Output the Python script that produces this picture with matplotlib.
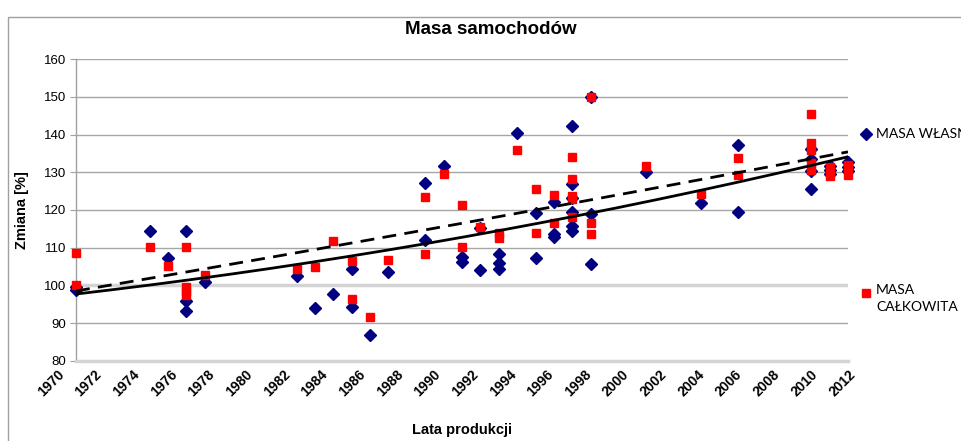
import numpy as np
import matplotlib
matplotlib.use("Agg")
import matplotlib.pyplot as plt
import matplotlib.transforms as mtransforms
from matplotlib.lines import Line2D
from matplotlib.patches import Rectangle

# ---- data ----
wl_years = [1970, 1970, 1974, 1975, 1976, 1976, 1976, 1977, 1982, 1983, 1984,
            1985, 1985, 1986, 1987, 1989, 1989, 1990, 1991, 1991, 1992, 1992,
            1993, 1993, 1993, 1994, 1995, 1995, 1996, 1996, 1996,
            1997, 1997, 1997, 1997, 1997, 1997, 1998, 1998, 1998,
            2001, 2004, 2006, 2006, 2010, 2010, 2010, 2010,
            2011, 2011, 2011, 2012, 2012, 2012]
wl_values = [99.6, 98.8, 114.5, 107.3, 114.5, 95.9, 93.2, 101.0, 102.5, 94.0, 97.6,
             104.3, 94.2, 86.9, 103.5, 127.1, 112.0, 131.7, 107.4, 106.1, 115.1, 104.1,
             108.2, 106.0, 104.3, 140.4, 119.2, 107.2, 122.0, 113.7, 112.9,
             142.3, 127.0, 123.1, 119.4, 115.8, 114.3, 150.0, 118.9, 105.7,
             130.0, 121.9, 137.3, 119.6, 136.1, 133.5, 130.4, 125.5,
             131.8, 130.5, 129.5, 132.8, 131.5, 130.4]

ca_years = [1970, 1970, 1974, 1975, 1976, 1976, 1976, 1976, 1977, 1982, 1983, 1984,
            1985, 1985, 1986, 1987, 1989, 1989, 1990, 1991, 1991, 1992,
            1993, 1993, 1994, 1995, 1995, 1996, 1996,
            1997, 1997, 1997, 1997, 1997, 1998, 1998, 1998,
            2001, 2004, 2006, 2006, 2010, 2010, 2010, 2010, 2010,
            2011, 2011, 2011, 2012, 2012, 2012]
ca_values = [108.7, 100.1, 110.3, 105.2, 110.3, 99.5, 98.6, 97.4, 102.8, 104.3, 104.9, 111.9,
             106.4, 96.3, 91.5, 106.7, 123.5, 108.3, 129.6, 121.3, 110.3, 115.6,
             113.8, 112.5, 135.9, 125.5, 114.0, 123.9, 116.5,
             134.0, 128.2, 123.8, 122.8, 118.2, 150.0, 116.6, 113.6,
             131.8, 124.3, 133.7, 129.3, 145.5, 137.8, 136.0, 132.4, 130.5,
             131.5, 130.2, 129.0, 132.0, 130.8, 129.2]

series_labels = ["MASA WŁASNA", "MASA\nCAŁKOWITA"]
title = "Masa samochodów"
xlabel = "Lata produkcji"
ylabel = "Zmiana [%]"
year_ticks = list(range(1970, 2013, 2))
y_ticks = list(range(80, 161, 10))

NAVY = "#000080"
RED = "#FF0000"

fig = plt.figure(figsize=(9.62, 4.41), dpi=100)
W, H = 962, 441
ax = fig.add_axes([76 / W, 1 - 360.7 / H, (848 - 76) / W, (360.7 - 59.3) / H])

# chart-area border
fig.add_artist(Rectangle((8 / W, -0.1), 1.2, 1.1 - 17 / H, transform=fig.transFigure,
                         fill=False, edgecolor="#a0a0a0", linewidth=1.0))

ax.set_xlim(1970, 2012)
ax.set_ylim(80, 160)
ax.set_yticks(y_ticks)
ax.set_xticks(year_ticks)
ax.set_xticklabels([])
# rotated year labels; the reference spreads them slightly wider than the ticks
for yr in year_ticks:
    dx = -19.0 * (year_ticks[-1] - yr) / (year_ticks[-1] - year_ticks[0])
    shift = mtransforms.ScaledTranslation(dx / 100, -7 / 100, fig.dpi_scale_trans)
    ax.text(yr, 0, str(yr), transform=ax.get_xaxis_transform() + shift,
            rotation=45, ha="right", va="top", rotation_mode="anchor",
            fontweight="bold", fontsize=10, family="Liberation Sans")
for lab in ax.get_yticklabels():
    lab.set_family("Liberation Sans")
    lab.set_fontsize(9.5)
ax.tick_params(axis="x", length=0, pad=6)
ax.tick_params(axis="y", length=4, color="#a0a0a0", pad=3)

for v in y_ticks:
    if v in (80, 100):
        continue
    ax.axhline(v, color="#a6a6a6", linewidth=1.0, zorder=0)
ax.axhline(100, color="#d4d4d4", linewidth=2.5, zorder=0)
for s in ("top", "right"):
    ax.spines[s].set_visible(False)
ax.spines["bottom"].set_color("#d4d4d4")
ax.spines["bottom"].set_linewidth(2.5)
ax.spines["left"].set_color("#a0a0a0")
ax.spines["left"].set_linewidth(1.0)

ax.plot(wl_years, wl_values, linestyle="none", marker="D", ms=6.2, color=NAVY,
        mec=NAVY, zorder=3, clip_on=False)
ax.plot(ca_years, ca_values, linestyle="none", marker="s", ms=5.6, color=RED,
        mec=RED, zorder=4, clip_on=False)

# polynomial (2nd order) trendlines computed from the data
xs = np.linspace(1970, 2012, 200)
p_wl = np.polyfit(np.array(wl_years) - 1970, wl_values, 2)
p_ca = np.polyfit(np.array(ca_years) - 1970, ca_values, 2)
ax.plot(xs, np.polyval(p_wl, xs - 1970), color="black", linewidth=2.0, zorder=5)
ax.plot(xs, np.polyval(p_ca, xs - 1970), color="black", linewidth=2.0,
        dashes=(5, 3), zorder=5)

fig.text(491 / W, 1 - 30 / H, title, ha="center", va="center", fontsize=13.5,
         fontweight="bold", family="Liberation Sans")
fig.text(462 / W, 1 - 430 / H, xlabel, ha="center", va="center", fontsize=10.5,
         fontweight="bold", family="Liberation Sans")
fig.text(22 / W, 1 - 210 / H, ylabel, ha="center", va="center", fontsize=10.5,
         fontweight="bold", rotation=90, family="Liberation Sans")

# legend
fig.add_artist(Line2D([866 / W], [1 - 134 / H], transform=fig.transFigure,
                      marker="D", ms=6.2, color=NAVY, linestyle="none"))
fig.text(876 / W, 1 - 134 / H, series_labels[0], ha="left", va="center",
         fontsize=10, family="Lato")
fig.add_artist(Line2D([866 / W], [1 - 293 / H], transform=fig.transFigure,
                      marker="s", ms=5.6, color=RED, linestyle="none"))
fig.text(876 / W, 1 - 284 / H, series_labels[1], ha="left", va="top",
         fontsize=10, family="Lato", linespacing=1.5)

fig.savefig("out.png", dpi=100)
